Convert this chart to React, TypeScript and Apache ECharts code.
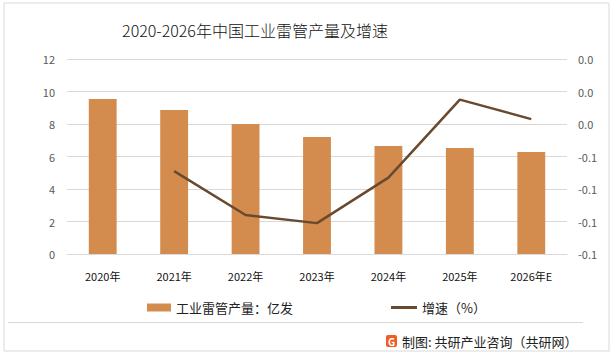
import React, { useEffect, useRef } from "react";
import * as echarts from "echarts";

const categories = ["2020年", "2021年", "2022年", "2023年", "2024年", "2025年", "2026年E"];
const output = [9.54, 8.86, 8.0, 7.2, 6.65, 6.52, 6.28];
const growth: (number | null)[] = [null, -0.069, -0.096, -0.101, -0.073, -0.025, -0.037];
const titleText = "2020-2026年中国工业雷管产量及增速";
const barName = "工业雷管产量：亿发";
const lineName = "增速（%）";
const sourceText = "制图: 共研产业咨询（共研网）";

const FONT = "'Noto Sans CJK SC', 'Noto Sans', sans-serif";

export default function App() {
  const ref = useRef<HTMLDivElement>(null);
  useEffect(() => {
    if (!ref.current) return;
    const chart = echarts.init(ref.current, null, { renderer: "svg" });
    chart.setOption({
      animation: false,
      backgroundColor: "#ffffff",
      textStyle: { fontFamily: FONT },
      grid: { left: 67, right: 48, top: 59, bottom: 101, containLabel: false },
      legend: [
        {
          data: [{ name: barName, icon: "rect" }],
          left: 142,
          top: 296,
          itemWidth: 24,
          itemHeight: 8,
          itemGap: 4,
          textStyle: { fontSize: 13, color: "#222", fontFamily: FONT },
        },
        {
          data: [{ name: lineName, icon: "rect" }],
          left: 386,
          top: 296,
          itemWidth: 26,
          itemHeight: 3,
          textStyle: { fontSize: 13, color: "#222", fontFamily: FONT },
        },
      ],
      xAxis: {
        type: "category",
        data: categories,
        axisLine: { lineStyle: { color: "#d9d9d9" } },
        axisTick: { show: false },
        axisLabel: { color: "#111", fontSize: 11, margin: 16, fontFamily: FONT },
      },
      yAxis: [
        {
          type: "value",
          min: 0,
          max: 12,
          interval: 2,
          axisLine: { show: false },
          axisTick: { show: false },
          splitLine: { lineStyle: { color: "#d9d9d9" } },
          axisLabel: { color: "#595959", fontSize: 11, margin: 12, fontFamily: FONT },
        },
        {
          type: "value",
          min: -0.12,
          max: 0,
          interval: 0.02,
          axisLine: { show: false },
          axisTick: { show: false },
          splitLine: { show: false },
          axisLabel: {
            color: "#595959",
            fontSize: 11,
            margin: 11,
            fontFamily: FONT,
            formatter: (v: number) => {
              const s = v.toFixed(1);
              return s === "-0.0" ? "0.0" : s;
            },
          },
        },
      ],
      series: [
        {
          name: barName,
          type: "bar",
          data: output,
          barWidth: "39%",
          itemStyle: { color: "#D48B4E" },
        },
        {
          name: lineName,
          type: "line",
          yAxisIndex: 1,
          data: growth,
          symbol: "none",
          lineStyle: { color: "#6A4A2F", width: 2.5 },
          itemStyle: { color: "#6A4A2F" },
        },
      ],
      graphic: [
        {
          type: "rect",
          shape: { x: 4, y: 3, width: 605, height: 348 },
          style: { fill: "none", stroke: "#d9d9d9", lineWidth: 1 },
          silent: true,
        },
        {
          type: "line",
          shape: { x1: 8, y1: 322.5, x2: 583, y2: 322.5 },
          style: { stroke: "#d9d9d9", lineWidth: 1 },
          silent: true,
        },
        {
          type: "text",
          x: 255,
          y: 30,
          style: {
            text: titleText,
            fontSize: 16,
            fontWeight: 300,
            fontFamily: FONT,
            fill: "#111",
            align: "center",
            verticalAlign: "middle",
          },
        },
        {
          type: "rect",
          shape: { x: 386, y: 335, width: 11, height: 12, r: 2 },
          style: { fill: "#F15A24" },
        },
        {
          type: "text",
          x: 391.5,
          y: 341.5,
          style: {
            text: "G",
            fontSize: 10,
            fontWeight: "bold",
            fontFamily: FONT,
            fill: "#ffffff",
            align: "center",
            verticalAlign: "middle",
          },
        },
        {
          type: "text",
          x: 402,
          y: 341.5,
          style: {
            text: sourceText,
            fontSize: 13,
            fontFamily: FONT,
            fill: "#222",
            align: "left",
            verticalAlign: "middle",
          },
        },
      ],
    });
    return () => chart.dispose();
  }, []);
  return (
    <div
      ref={ref}
      style={{ position: "fixed", left: 0, top: 0, width: 615, height: 355 }}
    />
  );
}
